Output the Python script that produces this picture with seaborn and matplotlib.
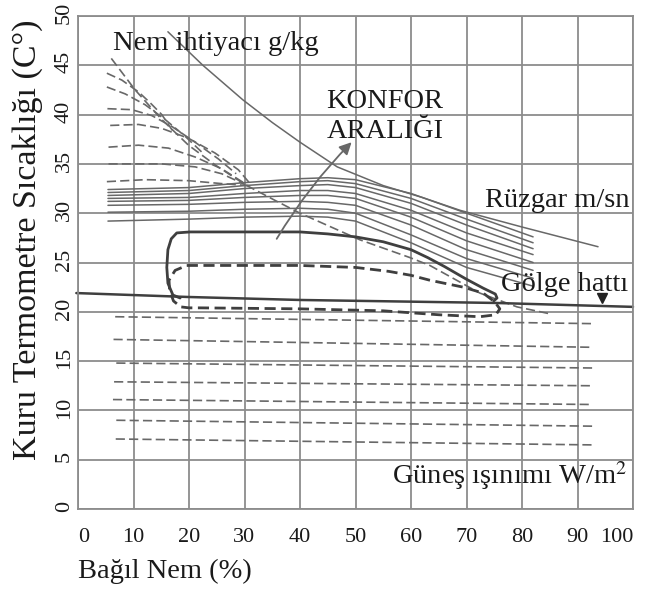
import numpy as np
import pandas as pd
import seaborn as sns
import matplotlib.pyplot as plt
import matplotlib.transforms as mtrans

# --- veri ---
# Konfor bölgesi, yaz (kalın düz çizgi)
yaz_x = [18.4, 17.1, 16.2, 16.0, 16.2, 16.8, 17.8, 20.2, 30, 40, 45, 50, 55, 60, 63, 66, 70, 73, 75.2, 75.5, 74.9]
yaz_y = [21.4, 21.7, 22.9, 24.5, 26.3, 27.4, 28.0, 28.1, 28.1, 28.1, 27.9, 27.6, 27.1, 26.3, 25.5, 24.6, 23.3, 22.4, 21.8, 21.4, 21.1]

# Konfor bölgesi, kış (kalın kesikli çizgi)
kis_x = [19.6, 30, 40, 50, 56, 60, 63.4, 69.4, 73, 75.1, 76, 75.3, 72.4, 65, 55, 40, 22, 20, 18.5, 17.2, 16.5, 16.4, 17.5, 19.6]
kis_y = [24.7, 24.7, 24.7, 24.5, 24.1, 23.7, 23.2, 22.5, 21.9, 21.0, 20.3, 19.7, 19.5, 19.7, 20.1, 20.3, 20.4, 20.4, 20.5, 21.1, 22.2, 23.2, 24.2, 24.7]

# Gölge hattı
golge_x = [-0.3, 20, 40, 75, 100]
golge_y = [21.9, 21.5, 21.2, 20.9, 20.5]

# Rüzgar üst sınır eğrisi
ruzgar_ust_x = [16.2, 22.5, 29.7, 35, 40, 46.7, 55, 62, 68.8, 80, 93.7]
ruzgar_ust_y = [48.4, 45.0, 41.5, 39.2, 37.2, 34.7, 32.8, 31.6, 30.3, 28.6, 26.6]

# Rüzgar eğrileri (m/sn)
ruzgar_x = [5.4, 20, 30, 40, 45, 50, 60, 70, 82]
ruzgar_1 = [32.4, 32.6, 33.1, 33.5, 33.6, 33.4, 32.0, 30.0, 27.6]
ruzgar_2 = [32.1, 32.3, 32.8, 33.2, 33.3, 33.0, 31.5, 29.4, 27.0]
ruzgar_3 = [31.8, 32.0, 32.5, 32.8, 32.9, 32.6, 31.0, 28.8, 26.4]
ruzgar_4 = [31.5, 31.6, 32.0, 32.3, 32.3, 32.0, 30.3, 28.0, 25.8]
ruzgar_5 = [31.2, 31.3, 31.6, 31.8, 31.8, 31.5, 29.6, 27.2, 25.0]
ruzgar_6 = [30.8, 30.9, 31.1, 31.2, 31.1, 30.8, 28.8, 26.3, 24.2]
ruzgar_7 = [30.1, 30.2, 30.4, 30.5, 30.4, 30.0, 27.8, 25.4, 23.4]
ruzgar_8 = [29.2, 29.4, 29.6, 29.7, 29.6, 29.2, 27.0, 24.5, 22.6]

# Nem ihtiyacı sınır eğrisi (kesikli)
nem_sinir_x = [6.0, 10.3, 15.1, 19.9, 24.7, 30.1, 35.5, 40, 50.8, 59.8, 63.4, 72.4, 79.1, 85]
nem_sinir_y = [45.7, 42.5, 39.5, 36.9, 34.9, 32.9, 31.3, 30.0, 27.3, 25.5, 24.7, 21.9, 20.5, 19.8]

# Nem ihtiyacı eğrileri (g/kg)
nem_b_x = [5.2, 7.9, 10.9, 13.0, 15.1, 17.0]
nem_b_y = [44.2, 43.5, 42.3, 41.2, 40.0, 38.4]
nem_c_x = [5.2, 8.5, 12.1, 15.7, 19.3, 22.3]
nem_c_y = [42.8, 42.1, 41.0, 39.5, 37.8, 36.2]
nem_d_x = [5.3, 9.7, 13.3, 16.9, 21.1, 25.3, 28.5]
nem_d_y = [40.6, 40.5, 39.9, 38.8, 37.2, 35.5, 34.0]
nem_e_x = [5.8, 10.9, 15.1, 19.9, 24.7, 28.9, 31.0]
nem_e_y = [38.9, 39.0, 38.6, 37.6, 36.1, 34.4, 33.0]
nem_f_x = [5.5, 10.9, 16.3, 21.1, 25.9, 30.1]
nem_f_y = [36.7, 36.9, 36.6, 35.7, 34.5, 33.0]
nem_g_x = [5.5, 15.1, 21.1, 25.9, 30.1]
nem_g_y = [35.0, 35.0, 34.7, 34.0, 32.9]
nem_h_x = [5.2, 12.1, 19.9, 25.9, 30.7]
nem_h_y = [33.2, 33.4, 33.3, 33.0, 32.8]

# Güneş ışınımı eğrileri (W/m2)
gunes_bas = [6.7, 6.4, 6.9, 6.5, 6.3, 6.9, 6.8]
gunes_son = [92.6, 92.8, 92.8, 92.6, 92.4, 92.8, 92.8]
gunes_sol = [19.5, 17.2, 14.8, 12.9, 11.1, 9.0, 7.1]
gunes_sag = [18.8, 16.4, 14.3, 12.5, 10.6, 8.4, 6.5]

x_ticks = list(range(0, 101, 10))
y_ticks = list(range(0, 51, 5))

# --- çizim ---
sns.set_theme(style="whitegrid")
plt.rcParams['font.family'] = ['Liberation Serif', 'DejaVu Serif']
plt.rcParams['mathtext.fontset'] = 'stix'

fig = plt.figure(figsize=(6.54, 5.94), dpi=100)
ax = fig.add_axes([78 / 654, 85 / 594, 555 / 654, 493 / 594])

grid_renk = '#8c8c8c'
cizgi_renk = '#686868'
koyu = '#3f3f3f'
kesik = (0, (5.5, 2.5))


def ciz(xs, ys, **kw):
    sns.lineplot(x=xs, y=ys, sort=False, estimator=None, ax=ax, **kw)


for ry in [ruzgar_1, ruzgar_2, ruzgar_3, ruzgar_4, ruzgar_5, ruzgar_6, ruzgar_7, ruzgar_8]:
    ciz(ruzgar_x, ry, color=cizgi_renk, lw=1.1)
ciz(ruzgar_ust_x, ruzgar_ust_y, color=cizgi_renk, lw=1.1)

ciz(nem_sinir_x, nem_sinir_y, color=cizgi_renk, lw=1.2, linestyle=kesik)
for nx, ny in [(nem_b_x, nem_b_y), (nem_c_x, nem_c_y), (nem_d_x, nem_d_y), (nem_e_x, nem_e_y),
               (nem_f_x, nem_f_y), (nem_g_x, nem_g_y), (nem_h_x, nem_h_y)]:
    ciz(nx, ny, color=cizgi_renk, lw=1.2, linestyle=kesik)

for b, s, l, r in zip(gunes_bas, gunes_son, gunes_sol, gunes_sag):
    ciz([b, s], [l, r], color=cizgi_renk, lw=1.2, linestyle=kesik)

ciz(golge_x, golge_y, color=koyu, lw=1.8, clip_on=False)
ax.plot([94.4], [21.35], marker='v', color='#222222', markersize=6.5, ls='none')

ciz(yaz_x, yaz_y, color=koyu, lw=2.0)
ciz(kis_x, kis_y, color=koyu, lw=2.0, linestyle=(0, (4, 2)))

ax.annotate('', xy=(49.3, 37.2), xytext=(35.8, 27.4),
            arrowprops=dict(arrowstyle='-|>', color=cizgi_renk, lw=1.3, mutation_scale=18,
                            shrinkA=0, shrinkB=0, connectionstyle='arc3,rad=-0.06'))

metin = '#1a1a1a'
yazi = 20.5
ax.text(6.3, 47.2, 'Nem ihtiyacı g/kg', fontsize=yazi, color=metin, va='center', ha='left')
ax.text(55.3, 39.8, 'KONFOR\nARALIĞI', fontsize=yazi, color=metin, va='center', ha='center',
        linespacing=1.3)
ax.text(73.3, 31.3, 'Rüzgar m/sn', fontsize=yazi, color=metin, va='center', ha='left')
ax.text(76.2, 22.8, 'Gölge hattı', fontsize=yazi, color=metin, va='center', ha='left')
ax.text(56.6, 3.4, 'Güneş ışınımı W/m$^2$', fontsize=yazi, color=metin, va='center', ha='left')

ax.set_xlim(0, 100)
ax.set_ylim(0, 50)
ax.set_xticks(x_ticks)
ax.set_yticks(y_ticks)
ax.grid(True, color=grid_renk, lw=1.3)
for sp in ax.spines.values():
    sp.set_color(grid_renk)
    sp.set_linewidth(1.3)
ax.tick_params(axis='x', length=0, pad=14, labelsize=16, labelcolor=metin)
ax.tick_params(axis='y', length=0, pad=3, labelsize=16, labelcolor=metin)
ylabs = ax.get_yticklabels()
kaydir = mtrans.ScaledTranslation(0, 3 / 100, fig.dpi_scale_trans)
for lab in ylabs:
    lab.set_rotation(90)
    lab.set_va('center')
    lab.set_transform(lab.get_transform() + kaydir)
xlabs = ax.get_xticklabels()
xlabs[0].set_ha('left')
xlabs[-1].set_ha('right')

ax.set_xlabel('Bağıl Nem (%)', fontsize=20.5, color=metin)
ax.xaxis.set_label_coords(0.0, -0.101)
ax.xaxis.label.set_ha('left')
ax.set_ylabel('Kuru Termometre Sıcaklığı (C°)', fontsize=24.5, color=metin)
ax.yaxis.set_label_coords(-0.063, 0.546)

fig.savefig('out.png', dpi=100)
